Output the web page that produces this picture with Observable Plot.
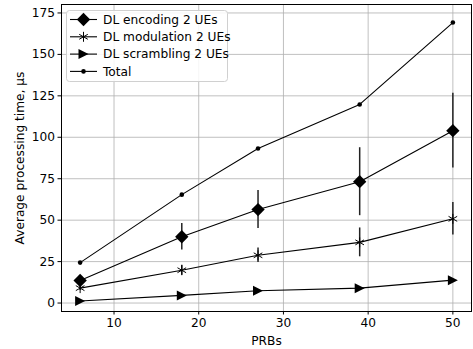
<!DOCTYPE html>
<html>
<head>
<meta charset="utf-8">
<script src="https://cdn.jsdelivr.net/npm/d3@7"></script>
<script src="https://cdn.jsdelivr.net/npm/@observablehq/plot@0.6"></script>
<style>
  body { margin: 0; background: #fff; font-family: "DejaVu Sans", sans-serif; }
  #wrap { position: relative; width: 473px; height: 349px; }
  #legend { position: absolute; left: 0; top: 0; pointer-events: none; }
</style>
</head>
<body>
<div id="wrap"></div>
<script>
// ---- data ----
const prbs = [6, 18, 27, 39, 50];
const encoding = [13.6, 40.0, 56.4, 73.2, 104.0];
const encodingErr = [3.0, 8.0, 11.5, 20.5, 22.5];
const modulation = [9.0, 19.8, 28.8, 36.6, 50.8];
const modulationErr = [1.5, 3.0, 4.4, 8.7, 9.8];
const scrambling = [1.2, 4.6, 7.4, 9.0, 13.8];
const scramblingErr = [0, 0, 0, 0, 0];
const total = [24.4, 65.4, 93.2, 119.8, 169.2];
const seriesNames = ["DL encoding 2 UEs", "DL modulation 2 UEs", "DL scrambling 2 UEs", "Total"];
const xTicks = [10, 20, 30, 40, 50];
const yTicks = [0, 25, 50, 75, 100, 125, 150, 175];

const triRight = {
  draw(ctx, size) {
    const s = Math.sqrt(size / Math.PI);
    ctx.moveTo(s, 0);
    ctx.lineTo(-s, s);
    ctx.lineTo(-s, -s);
    ctx.closePath();
  }
};

const rows = (vals, errs) => prbs.map((x, i) => ({x, y: vals[i], lo: vals[i] - (errs ? errs[i] : 0), hi: vals[i] + (errs ? errs[i] : 0)}));
const enc = rows(encoding, encodingErr);
const mod = rows(modulation, modulationErr);
const scr = rows(scrambling, scramblingErr);
const tot = rows(total);

const fs = 12.2;
const chart = Plot.plot({
  width: 473,
  height: 349,
  marginLeft: 61,
  marginRight: 2,
  marginTop: 4,
  marginBottom: 38,
  style: {fontFamily: "DejaVu Sans, sans-serif", fontSize: fs + "px", color: "#000", background: "#fff"},
  x: {domain: [3.8, 52.2]},
  y: {domain: [-5.1, 180.1]},
  marks: [
    Plot.gridX(xTicks, {stroke: "#b0b0b0", strokeOpacity: 1, strokeWidth: 0.8}),
    Plot.gridY(yTicks, {stroke: "#b0b0b0", strokeOpacity: 1, strokeWidth: 0.8}),
    Plot.axisX(xTicks, {tickSize: 3.5, tickPadding: 3, fontSize: fs, label: "PRBs", labelAnchor: "center", labelOffset: 33, labelArrow: "none", stroke: "#000"}),
    Plot.axisY(yTicks, {tickSize: 3.5, tickPadding: 3, fontSize: fs, label: "Average processing time, µs", labelAnchor: "center", labelOffset: 46, labelArrow: "none", stroke: "#000"}),
    Plot.line(tot, {x: "x", y: "y", stroke: "black", strokeWidth: 1.1}),
    Plot.line(enc, {x: "x", y: "y", stroke: "black", strokeWidth: 1.1}),
    Plot.line(mod, {x: "x", y: "y", stroke: "black", strokeWidth: 1.1}),
    Plot.line(scr, {x: "x", y: "y", stroke: "black", strokeWidth: 1.1}),
    Plot.ruleX(enc, {x: "x", y1: "lo", y2: "hi", stroke: "#222", strokeWidth: 1.5}),
    Plot.ruleX(mod, {x: "x", y1: "lo", y2: "hi", stroke: "#222", strokeWidth: 1.5}),
    Plot.dot(tot, {x: "x", y: "y", r: 2.3, fill: "black", stroke: "none"}),
    Plot.dot(enc, {x: "x", y: "y", r: 6, symbol: "diamond2", fill: "black", stroke: "none"}),
    Plot.dot(mod, {x: "x", y: "y", r: 4.7, symbol: "asterisk", stroke: "black", strokeWidth: 1}),
    Plot.dot(scr, {x: "x", y: "y", r: 5, symbol: triRight, fill: "black", stroke: "none"}),
    Plot.frame({stroke: "black", strokeWidth: 1})
  ]
});
const wrap = document.getElementById("wrap");
wrap.appendChild(chart);

// ---- legend overlay ----
const lg = d3.select(wrap).append("svg").attr("id", "legend").attr("width", 473).attr("height", 349);
lg.append("rect").attr("x", 66.5).attr("y", 10.5).attr("width", 161).attr("height", 71).attr("rx", 3)
  .attr("fill", "white").attr("fill-opacity", 0.85).attr("stroke", "#d0d0d0").attr("stroke-width", 1);
const symbols = [
  {type: d3.symbolDiamond2, r: 6, fill: "black", stroke: "none"},
  {type: d3.symbolAsterisk, r: 4.7, fill: "none", stroke: "black"},
  {type: triRight, r: 5, fill: "black", stroke: "none"},
  {type: d3.symbolCircle, r: 2.3, fill: "black", stroke: "none"}
];
seriesNames.forEach((name, i) => {
  const y = 19.5 + i * 17.3;
  const g = lg.append("g");
  g.append("line").attr("x1", 70).attr("x2", 97).attr("y1", y).attr("y2", y).attr("stroke", "black").attr("stroke-width", 1.1);
  const s = symbols[i];
  g.append("path").attr("transform", `translate(83.5,${y})`)
    .attr("d", d3.symbol(s.type, Math.PI * s.r * s.r)())
    .attr("fill", s.fill).attr("stroke", s.stroke).attr("stroke-width", 1);
  g.append("text").attr("x", 103).attr("y", y).attr("dy", "0.35em")
    .attr("font-family", "DejaVu Sans, sans-serif").attr("font-size", fs + "px").attr("fill", "black").text(name);
});
</script>
</body>
</html>
